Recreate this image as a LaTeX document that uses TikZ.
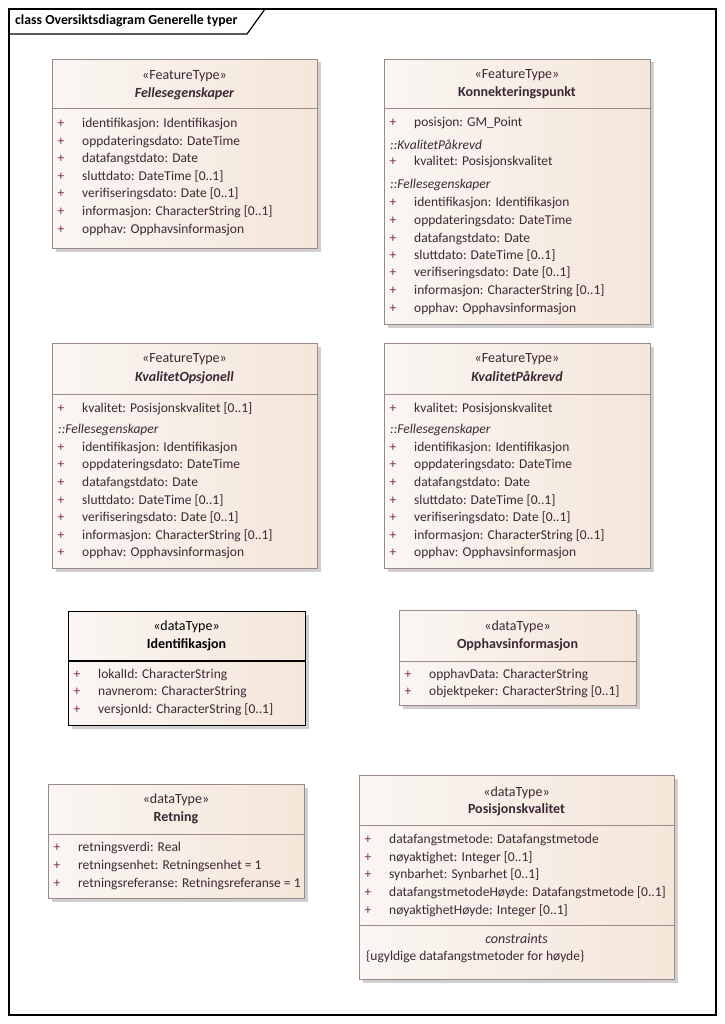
\documentclass[tikz,border=0pt]{standalone}
\usepackage{fontspec}
\setmainfont{Carlito}
\usetikzlibrary{shadows}
\definecolor{boxborder}{HTML}{9C8888}
\definecolor{fillL}{HTML}{FAF6F3}
\definecolor{fillR}{HTML}{F4E6D9}
\definecolor{txtc}{HTML}{3A2933}
\definecolor{plusc}{HTML}{7B2D50}
\definecolor{shadowc}{HTML}{CFCFCF}
\newcommand\bodyfont{\fontsize{13.5}{16}\selectfont}
\newcommand\headfont{\fontsize{14}{16}\selectfont}
\tikzset{
  every node/.style={font=\bodyfont},
  umlbox/.style={draw=boxborder, line width=1pt, anchor=north west, inner sep=0pt,
    left color=fillL, right color=fillR,
    drop shadow={shadow xshift=3pt, shadow yshift=-3pt, fill=shadowc, opacity=1}},
  blackbox/.style={umlbox, draw=black, line width=1.2pt},
  divline/.style={draw=boxborder, line width=1pt},
  blackdiv/.style={draw=black, line width=1.2pt},
  ctext/.style={inner sep=0pt, text height=9.5pt, text depth=3pt, text=txtc},
  attrtext/.style={ctext, anchor=west},
  plussym/.style={ctext, text=plusc},
  sectext/.style={ctext, anchor=west, font=\bodyfont\itshape},
  stereotext/.style={ctext, font=\headfont},
  nametext/.style={ctext, font=\headfont\bfseries},
  absname/.style={ctext, font=\headfont\bfseries\itshape},
}
\newcommand\uattr[4]{%
  \node[plussym] (#1p) at ({#2+9},#3) {+};
  \node[attrtext] (#1) at ({#2+30},#3) {#4};}
\newcommand\usec[4]{\node[sectext] (#1) at ({#2+6},#3) {#4};}
\begin{document}
\begin{tikzpicture}[x=1pt,y=-1pt]
\useasboundingbox (0,0) rectangle (724,1024);
\fill[white] (0,0) rectangle (724,1024);
% frame
\draw[line width=1.2pt] (9,9) rectangle (716,1015);
\draw[line width=1.2pt] (9,34) -- (247,34) -- (265,9);
\node[inner sep=0pt, anchor=west, font=\fontsize{13.8}{16}\selectfont\bfseries, text height=10pt, text depth=3pt] (title) at (15,21) {class Oversiktsdiagram Generelle typer};

% ---------- Fellesegenskaper
\node[umlbox, minimum width=265pt, minimum height=189pt] (fell) at (52,59) {};
\draw[divline] (52,109) -- (317,109);
\node[stereotext] (fellst) at (184.5,76) {«FeatureType»};
\node[absname] (fellnm) at (184.5,94) {Fellesegenskaper};
\uattr{fa1}{52}{124}{identifikasjon: Identifikasjon}
\uattr{fa2}{52}{142}{oppdateringsdato: DateTime}
\uattr{fa3}{52}{159}{datafangstdato: Date}
\uattr{fa4}{52}{177}{sluttdato: DateTime [0..1]}
\uattr{fa5}{52}{194}{verifiseringsdato: Date [0..1]}
\uattr{fa6}{52}{212}{informasjon: CharacterString [0..1]}
\uattr{fa7}{52}{230}{opphav: Opphavsinformasjon}

% ---------- Konnekteringspunkt
\node[umlbox, minimum width=266pt, minimum height=265pt] (konn) at (384,59) {};
\draw[divline] (384,109) -- (650,109);
\node[stereotext] (konnst) at (517,75) {«FeatureType»};
\node[nametext] (konnnm) at (517,93) {Konnekteringspunkt};
\uattr{ka0}{384}{123}{posisjon: GM\_Point}
\usec{ks1}{384}{146}{::KvalitetPåkrevd}
\uattr{kq1}{384}{162}{kvalitet: Posisjonskvalitet}
\usec{ks2}{384}{185}{::Fellesegenskaper}
\uattr{ka1}{384}{203}{identifikasjon: Identifikasjon}
\uattr{ka2}{384}{221}{oppdateringsdato: DateTime}
\uattr{ka3}{384}{239}{datafangstdato: Date}
\uattr{ka4}{384}{256}{sluttdato: DateTime [0..1]}
\uattr{ka5}{384}{273}{verifiseringsdato: Date [0..1]}
\uattr{ka6}{384}{291}{informasjon: CharacterString [0..1]}
\uattr{ka7}{384}{309}{opphav: Opphavsinformasjon}

% ---------- KvalitetOpsjonell
\node[umlbox, minimum width=265pt, minimum height=225pt] (kvop) at (52,343) {};
\draw[divline] (52,394) -- (317,394);
\node[stereotext] (kvopst) at (184.5,359) {«FeatureType»};
\node[absname] (kvopnm) at (184.5,378) {KvalitetOpsjonell};
\uattr{oq1}{52}{409}{kvalitet: Posisjonskvalitet [0..1]}
\usec{os1}{52}{430}{::Fellesegenskaper}
\uattr{oa1}{52}{448}{identifikasjon: Identifikasjon}
\uattr{oa2}{52}{465}{oppdateringsdato: DateTime}
\uattr{oa3}{52}{483}{datafangstdato: Date}
\uattr{oa4}{52}{501}{sluttdato: DateTime [0..1]}
\uattr{oa5}{52}{518}{verifiseringsdato: Date [0..1]}
\uattr{oa6}{52}{536}{informasjon: CharacterString [0..1]}
\uattr{oa7}{52}{553}{opphav: Opphavsinformasjon}

% ---------- KvalitetPåkrevd
\node[umlbox, minimum width=266pt, minimum height=225pt] (kvpa) at (384,343) {};
\draw[divline] (384,394) -- (650,394);
\node[stereotext] (kvpast) at (517,359) {«FeatureType»};
\node[absname] (kvpanm) at (517,378) {KvalitetPåkrevd};
\uattr{pq1}{384}{409}{kvalitet: Posisjonskvalitet}
\usec{ps1}{384}{430}{::Fellesegenskaper}
\uattr{pa1}{384}{448}{identifikasjon: Identifikasjon}
\uattr{pa2}{384}{465}{oppdateringsdato: DateTime}
\uattr{pa3}{384}{483}{datafangstdato: Date}
\uattr{pa4}{384}{501}{sluttdato: DateTime [0..1]}
\uattr{pa5}{384}{518}{verifiseringsdato: Date [0..1]}
\uattr{pa6}{384}{536}{informasjon: CharacterString [0..1]}
\uattr{pa7}{384}{553}{opphav: Opphavsinformasjon}

% ---------- Identifikasjon
\node[blackbox, minimum width=237pt, minimum height=114pt] (ident) at (68,611) {};
\draw[blackdiv] (68,661) -- (305,661);
\node[stereotext, text=black] (identst) at (186.5,627) {«dataType»};
\node[nametext, text=black] (identnm) at (186.5,645) {Identifikasjon};
\uattr{ia1}{68}{675}{lokalId: CharacterString}
\uattr{ia2}{68}{692}{navnerom: CharacterString}
\uattr{ia3}{68}{710}{versjonId: CharacterString [0..1]}

% ---------- Opphavsinformasjon
\node[umlbox, minimum width=237pt, minimum height=95pt] (opph) at (399,610) {};
\draw[divline] (399,661) -- (636,661);
\node[stereotext] (opphst) at (517.5,627) {«dataType»};
\node[nametext] (opphnm) at (517.5,645) {Opphavsinformasjon};
\uattr{ha1}{399}{675}{opphavData: CharacterString}
\uattr{ha2}{399}{692}{objektpeker: CharacterString [0..1]}

% ---------- Retning
\node[umlbox, minimum width=256pt, minimum height=114pt] (retn) at (48,784) {};
\draw[divline] (48,834) -- (304,834);
\node[stereotext] (retnst) at (176,800) {«dataType»};
\node[nametext] (retnnm) at (176,818) {Retning};
\uattr{ra1}{48}{848}{retningsverdi: Real}
\uattr{ra2}{48}{866}{retningsenhet: Retningsenhet = 1}
\uattr{ra3}{48}{884}{retningsreferanse: Retningsreferanse = 1}

% ---------- Posisjonskvalitet
\node[umlbox, minimum width=315pt, minimum height=204pt] (posk) at (359,775) {};
\draw[divline] (359,825) -- (674,825);
\draw[divline] (359,925) -- (674,925);
\node[stereotext] (poskst) at (516.5,793) {«dataType»};
\node[nametext] (posknm) at (516.5,810) {Posisjonskvalitet};
\uattr{qa1}{359}{840}{datafangstmetode: Datafangstmetode}
\uattr{qa2}{359}{858}{nøyaktighet: Integer [0..1]}
\uattr{qa3}{359}{875}{synbarhet: Synbarhet [0..1]}
\uattr{qa4}{359}{893}{datafangstmetodeHøyde: Datafangstmetode [0..1]}
\uattr{qa5}{359}{911}{nøyaktighetHøyde: Integer [0..1]}
\node[stereotext, font=\headfont\itshape] (qcst) at (516.5,940) {constraints};
\node[attrtext] (qc1) at (366,957) {\{ugyldige datafangstmetoder for høyde\}};
\end{tikzpicture}
\end{document}
